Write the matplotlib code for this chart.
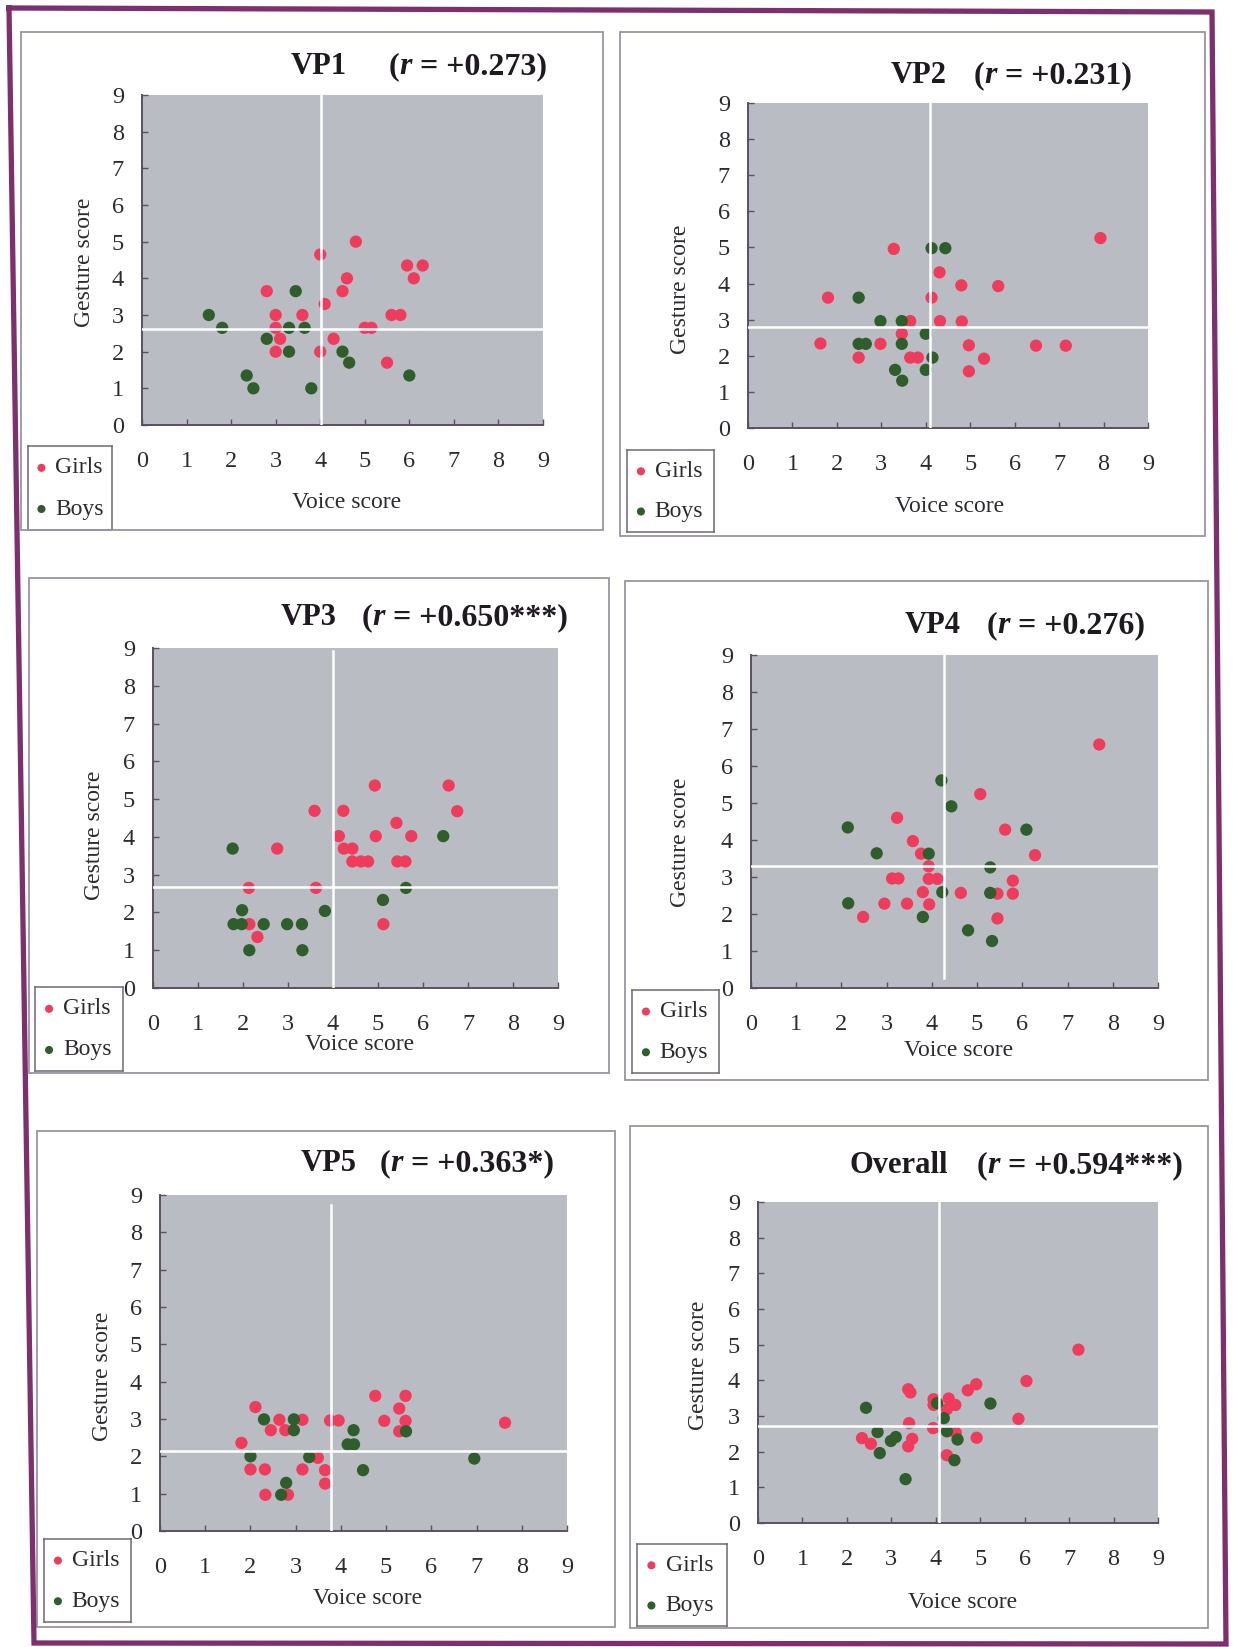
import matplotlib
matplotlib.use("Agg")
import matplotlib.pyplot as plt
from matplotlib.lines import Line2D
from matplotlib.patches import Rectangle

# ---------------- data ----------------
panel_names = ["VP1", "VP2", "VP3", "VP4", "VP5", "Overall"]
r_texts = [" = +0.273)", " = +0.231)", " = +0.650***)", " = +0.276)", " = +0.363*)", " = +0.594***)"]

vp1_girls_voice = [4.0, 4.8, 5.95, 6.3, 6.1, 4.6, 4.5, 2.8, 4.1, 3.0, 3.6, 5.6, 5.8, 3.0, 5.0, 5.15, 3.1, 4.3, 3.0, 4.0, 5.5]
vp1_girls_gesture = [4.65, 5.0, 4.35, 4.35, 4.0, 4.0, 3.65, 3.65, 3.3, 3.0, 3.0, 3.0, 3.0, 2.65, 2.65, 2.65, 2.35, 2.35, 2.0, 2.0, 1.7]
vp1_boys_voice = [1.5, 1.8, 3.45, 3.3, 3.65, 2.8, 3.3, 4.5, 4.65, 2.35, 2.5, 3.8, 6.0]
vp1_boys_gesture = [3.0, 2.65, 3.65, 2.65, 2.65, 2.35, 2.0, 2.0, 1.7, 1.35, 1.0, 1.0, 1.35]

vp2_girls_voice = [7.93, 3.28, 4.31, 4.8, 5.63, 1.8, 4.13, 3.65, 4.32, 4.81, 3.46, 1.63, 2.98, 4.97, 6.48, 7.15, 2.49, 3.65, 3.82, 5.31, 4.97]
vp2_girls_gesture = [5.26, 4.96, 4.31, 3.95, 3.93, 3.61, 3.61, 2.96, 2.96, 2.95, 2.61, 2.34, 2.33, 2.29, 2.28, 2.28, 1.95, 1.95, 1.95, 1.92, 1.57]
vp2_boys_voice = [4.13, 4.44, 2.49, 2.98, 3.46, 4.0, 2.49, 2.65, 3.46, 4.15, 3.31, 4.0, 3.47]
vp2_boys_gesture = [4.98, 4.98, 3.61, 2.96, 2.96, 2.61, 2.33, 2.33, 2.33, 1.95, 1.61, 1.61, 1.31]

vp3_girls_voice = [4.93, 6.57, 3.59, 4.23, 6.76, 5.41, 4.13, 4.95, 5.74, 2.76, 4.24, 4.43, 4.43, 4.62, 4.78, 5.43, 5.61, 2.13, 3.62, 2.14, 5.12, 2.32]
vp3_girls_gesture = [5.36, 5.36, 4.69, 4.69, 4.68, 4.37, 4.02, 4.02, 4.02, 3.69, 3.69, 3.69, 3.35, 3.35, 3.35, 3.35, 3.35, 2.65, 2.65, 1.69, 1.69, 1.35]
vp3_boys_voice = [1.77, 6.45, 5.62, 5.11, 3.82, 1.98, 1.79, 1.97, 2.46, 2.98, 3.31, 2.14, 3.32]
vp3_boys_gesture = [3.69, 4.02, 2.65, 2.33, 2.04, 2.06, 1.69, 1.69, 1.69, 1.69, 1.69, 1.0, 1.0]

vp4_girls_voice = [7.7, 5.07, 3.23, 5.62, 3.58, 3.76, 6.28, 3.93, 3.12, 3.26, 3.93, 4.12, 5.79, 3.8, 4.64, 5.45, 5.79, 2.95, 3.45, 3.94, 2.48, 5.45]
vp4_girls_gesture = [6.58, 5.24, 4.6, 4.28, 3.97, 3.63, 3.59, 3.29, 2.96, 2.96, 2.95, 2.95, 2.9, 2.59, 2.57, 2.55, 2.55, 2.28, 2.28, 2.26, 1.92, 1.88]
vp4_boys_voice = [4.21, 4.43, 2.14, 6.09, 2.78, 3.93, 5.29, 4.23, 5.29, 2.15, 3.8, 4.8, 5.33]
vp4_boys_gesture = [5.61, 4.91, 4.34, 4.28, 3.64, 3.63, 3.26, 2.59, 2.57, 2.29, 1.92, 1.56, 1.27]

vp5_girls_voice = [4.76, 5.43, 2.11, 5.29, 2.64, 3.15, 3.76, 3.95, 4.96, 5.43, 7.63, 2.45, 2.77, 5.29, 1.8, 3.49, 2.0, 2.32, 3.15, 3.65, 3.65, 2.33, 2.83]
vp5_girls_gesture = [3.62, 3.62, 3.32, 3.28, 2.98, 2.98, 2.96, 2.96, 2.95, 2.95, 2.9, 2.7, 2.7, 2.67, 2.36, 1.96, 1.65, 1.65, 1.65, 1.63, 1.27, 0.97, 0.97]
vp5_boys_voice = [2.3, 2.96, 2.96, 4.28, 5.44, 4.15, 4.29, 2.0, 3.3, 4.49, 6.95, 2.79, 2.68]
vp5_boys_gesture = [2.99, 2.99, 2.7, 2.7, 2.67, 2.32, 2.32, 2.0, 1.98, 1.63, 1.94, 1.29, 0.97]

all_girls_voice = [7.21, 6.04, 4.91, 4.72, 3.38, 3.43, 3.95, 4.29, 3.95, 4.44, 4.25, 5.86, 3.4, 3.94, 4.45, 2.34, 3.47, 4.92, 2.54, 3.38, 4.25]
all_girls_gesture = [4.86, 3.98, 3.89, 3.72, 3.75, 3.66, 3.47, 3.49, 3.31, 3.31, 3.19, 2.92, 2.8, 2.66, 2.53, 2.38, 2.36, 2.39, 2.22, 2.15, 1.9]
all_boys_voice = [2.43, 5.23, 4.03, 4.18, 2.69, 4.25, 4.49, 2.99, 3.1, 2.74, 4.42, 3.32]
all_boys_gesture = [3.23, 3.35, 3.36, 2.94, 2.55, 2.57, 2.34, 2.3, 2.41, 1.96, 1.76, 1.23]

mean_voice = [4.02, 4.1, 4.01, 4.27, 3.79, 4.07]
mean_gesture = [2.62, 2.8, 2.67, 3.3, 2.14, 2.73]

ticks = list(range(10))
legend_labels = ["Girls", "Boys"]
x_label = "Voice score"
y_label = "Gesture score"

data = [
    (vp1_girls_voice, vp1_girls_gesture, vp1_boys_voice, vp1_boys_gesture),
    (vp2_girls_voice, vp2_girls_gesture, vp2_boys_voice, vp2_boys_gesture),
    (vp3_girls_voice, vp3_girls_gesture, vp3_boys_voice, vp3_boys_gesture),
    (vp4_girls_voice, vp4_girls_gesture, vp4_boys_voice, vp4_boys_gesture),
    (vp5_girls_voice, vp5_girls_gesture, vp5_boys_voice, vp5_boys_gesture),
    (all_girls_voice, all_girls_gesture, all_boys_voice, all_boys_gesture),
]

# ---------------- layout (pixels of the 1233x1647 canvas) ----------------
W, H = 1233, 1647
plot_px = [(142, 95, 543, 425), (748, 103, 1148, 428), (153, 648, 558, 988),
           (751, 655, 1158, 988), (160, 1195, 567, 1531), (758, 1202, 1158, 1523)]
box_px = [(21, 32, 603, 530), (620, 32, 1205, 536), (29, 578, 609, 1073),
          (625, 581, 1208, 1080), (37, 1131, 615, 1627), (630, 1126, 1208, 1628)]
legend_px = [(28, 446, 112, 530), (627, 450, 714, 532), (35, 987, 123, 1071),
             (632, 990, 719, 1073), (44, 1539, 131, 1622), (637, 1544, 727, 1626)]
title_px = [(291, 389, 74), (891, 974, 83), (281, 362, 625), (905, 987, 633),
            (301, 380, 1171), (849, 977, 1173)]
ylabel_px = [(84, 262), (681, 289), (95, 835), (681, 842), (102, 1376), (698, 1365)]
xlabel_px = [(347, 502), (950, 507), (360, 1045), (959, 1050), (368, 1599), (963, 1602)]
vline_extent = [(0, 1), (0, 1), (0, 0.99), (0.03, 1), (0, 0.97), (0, 1)]

GIRL = "#ef3c5c"
BOY = "#2f5d2c"
BG = "#b9bcc2"
AXC = "#5a5060"
TXT = "#2e2a30"
SERIF = ["Liberation Serif", "DejaVu Serif"]

fig = plt.figure(figsize=(W / 100, H / 100), dpi=100)
fig.patch.set_facecolor("white")


def rect(x0, y0, x1, y1):
    return [x0 / W, 1 - y1 / H, (x1 - x0) / W, (y1 - y0) / H]


# outer purple frame (slightly skewed like the scan)
fx = [9, 1212, 1226, 34, 9]
fy = [8, 12, 1644, 1643, 8]
fig.add_artist(Line2D([x / W for x in fx], [1 - y / H for y in fy],
                      transform=fig.transFigure, color="#7e2f6e", lw=3.8,
                      solid_joinstyle="miter"))

for i in range(6):
    gv, gg, bv, bg = data[i]
    # panel box
    bx0, by0, bx1, by1 = box_px[i]
    fig.add_artist(Rectangle((bx0 / W, 1 - by1 / H), (bx1 - bx0) / W, (by1 - by0) / H,
                             transform=fig.transFigure, fill=False,
                             edgecolor="#9b94a4", lw=1.3))

    ax = fig.add_axes(rect(*plot_px[i]))
    ax.set_facecolor(BG)
    ax.scatter(gv, gg, s=78, color=GIRL, edgecolors="none", zorder=3)
    ax.scatter(bv, bg, s=78, color=BOY, edgecolors="none", zorder=3)
    ymn, ymx = vline_extent[i]
    ax.axvline(mean_voice[i], ymin=ymn, ymax=ymx, color="white", lw=1.8, zorder=4)
    ax.axhline(mean_gesture[i], color="white", lw=1.8, zorder=4)
    ax.set_xlim(0, 9)
    ax.set_ylim(0, 9)
    ax.set_xticks(ticks)
    ax.set_yticks(ticks)
    ax.set_xticklabels([str(t) for t in ticks])
    ax.set_yticklabels([str(t) for t in ticks])
    for s in ["top", "right"]:
        ax.spines[s].set_visible(False)
    for s in ["left", "bottom"]:
        ax.spines[s].set_color(AXC)
        ax.spines[s].set_linewidth(1.4)
    ax.tick_params(axis="x", direction="in", length=4, width=1, color=AXC, pad=19,
                   labelsize=17.5, labelcolor=TXT)
    ax.tick_params(axis="y", direction="in", length=4, width=1, color=AXC, pad=13,
                   labelsize=17.5, labelcolor=TXT)
    for lab in ax.get_xticklabels() + ax.get_yticklabels():
        lab.set_family(SERIF)

    # axis labels
    x0, y0, x1, y1 = plot_px[i]
    lx, ly = xlabel_px[i]
    ax.set_xlabel(x_label, family=SERIF, fontsize=17, color=TXT)
    ax.xaxis.set_label_coords((lx - x0) / (x1 - x0), (y1 - ly) / (y1 - y0))
    ax.xaxis.label.set_va("center")
    yx, yy = ylabel_px[i]
    ax.set_ylabel(y_label, family=SERIF, fontsize=17, color=TXT)
    ax.yaxis.set_label_coords((yx - x0) / (x1 - x0), (y1 - yy) / (y1 - y0))
    ax.yaxis.label.set_va("center")

    # title: name + "(r = +0.xxx)"
    nx, px, base = title_px[i]
    fig.text(nx / W, 1 - base / H, panel_names[i], family=SERIF, fontsize=22,
             weight="bold", color="#1e1a20", va="baseline", ha="left")
    t1 = fig.text(px / W, 1 - base / H, "(", family=SERIF, fontsize=23,
                  weight="bold", color="#1e1a20", va="baseline", ha="left")
    t2 = ax.annotate("r", xy=(1, 0), xycoords=t1, family=SERIF, fontsize=23,
                     weight="bold", style="italic", color="#1e1a20",
                     va="bottom", ha="left", annotation_clip=False)
    ax.annotate(r_texts[i], xy=(1, 0), xycoords=t2, family=SERIF, fontsize=23,
                weight="bold", color="#1e1a20", va="bottom", ha="left",
                annotation_clip=False)

    # legend box
    lg = fig.add_axes(rect(*legend_px[i]))
    lg.set_xlim(0, 1)
    lg.set_ylim(0, 1)
    lg.set_xticks([])
    lg.set_yticks([])
    lg.patch.set_alpha(0)
    for s in lg.spines.values():
        s.set_color("#6f6775")
        s.set_linewidth(1.1)
    lg.scatter([0.16], [0.74], s=34, color=GIRL, edgecolors="none")
    lg.scatter([0.16], [0.25], s=34, color=BOY, edgecolors="none")
    lg.text(0.32, 0.74, legend_labels[0], family=SERIF, fontsize=17, color=TXT,
            va="center", ha="left")
    lg.text(0.32, 0.25, legend_labels[1], family=SERIF, fontsize=17, color=TXT,
            va="center", ha="left")

fig.savefig("out.png", dpi=100, facecolor="white")
